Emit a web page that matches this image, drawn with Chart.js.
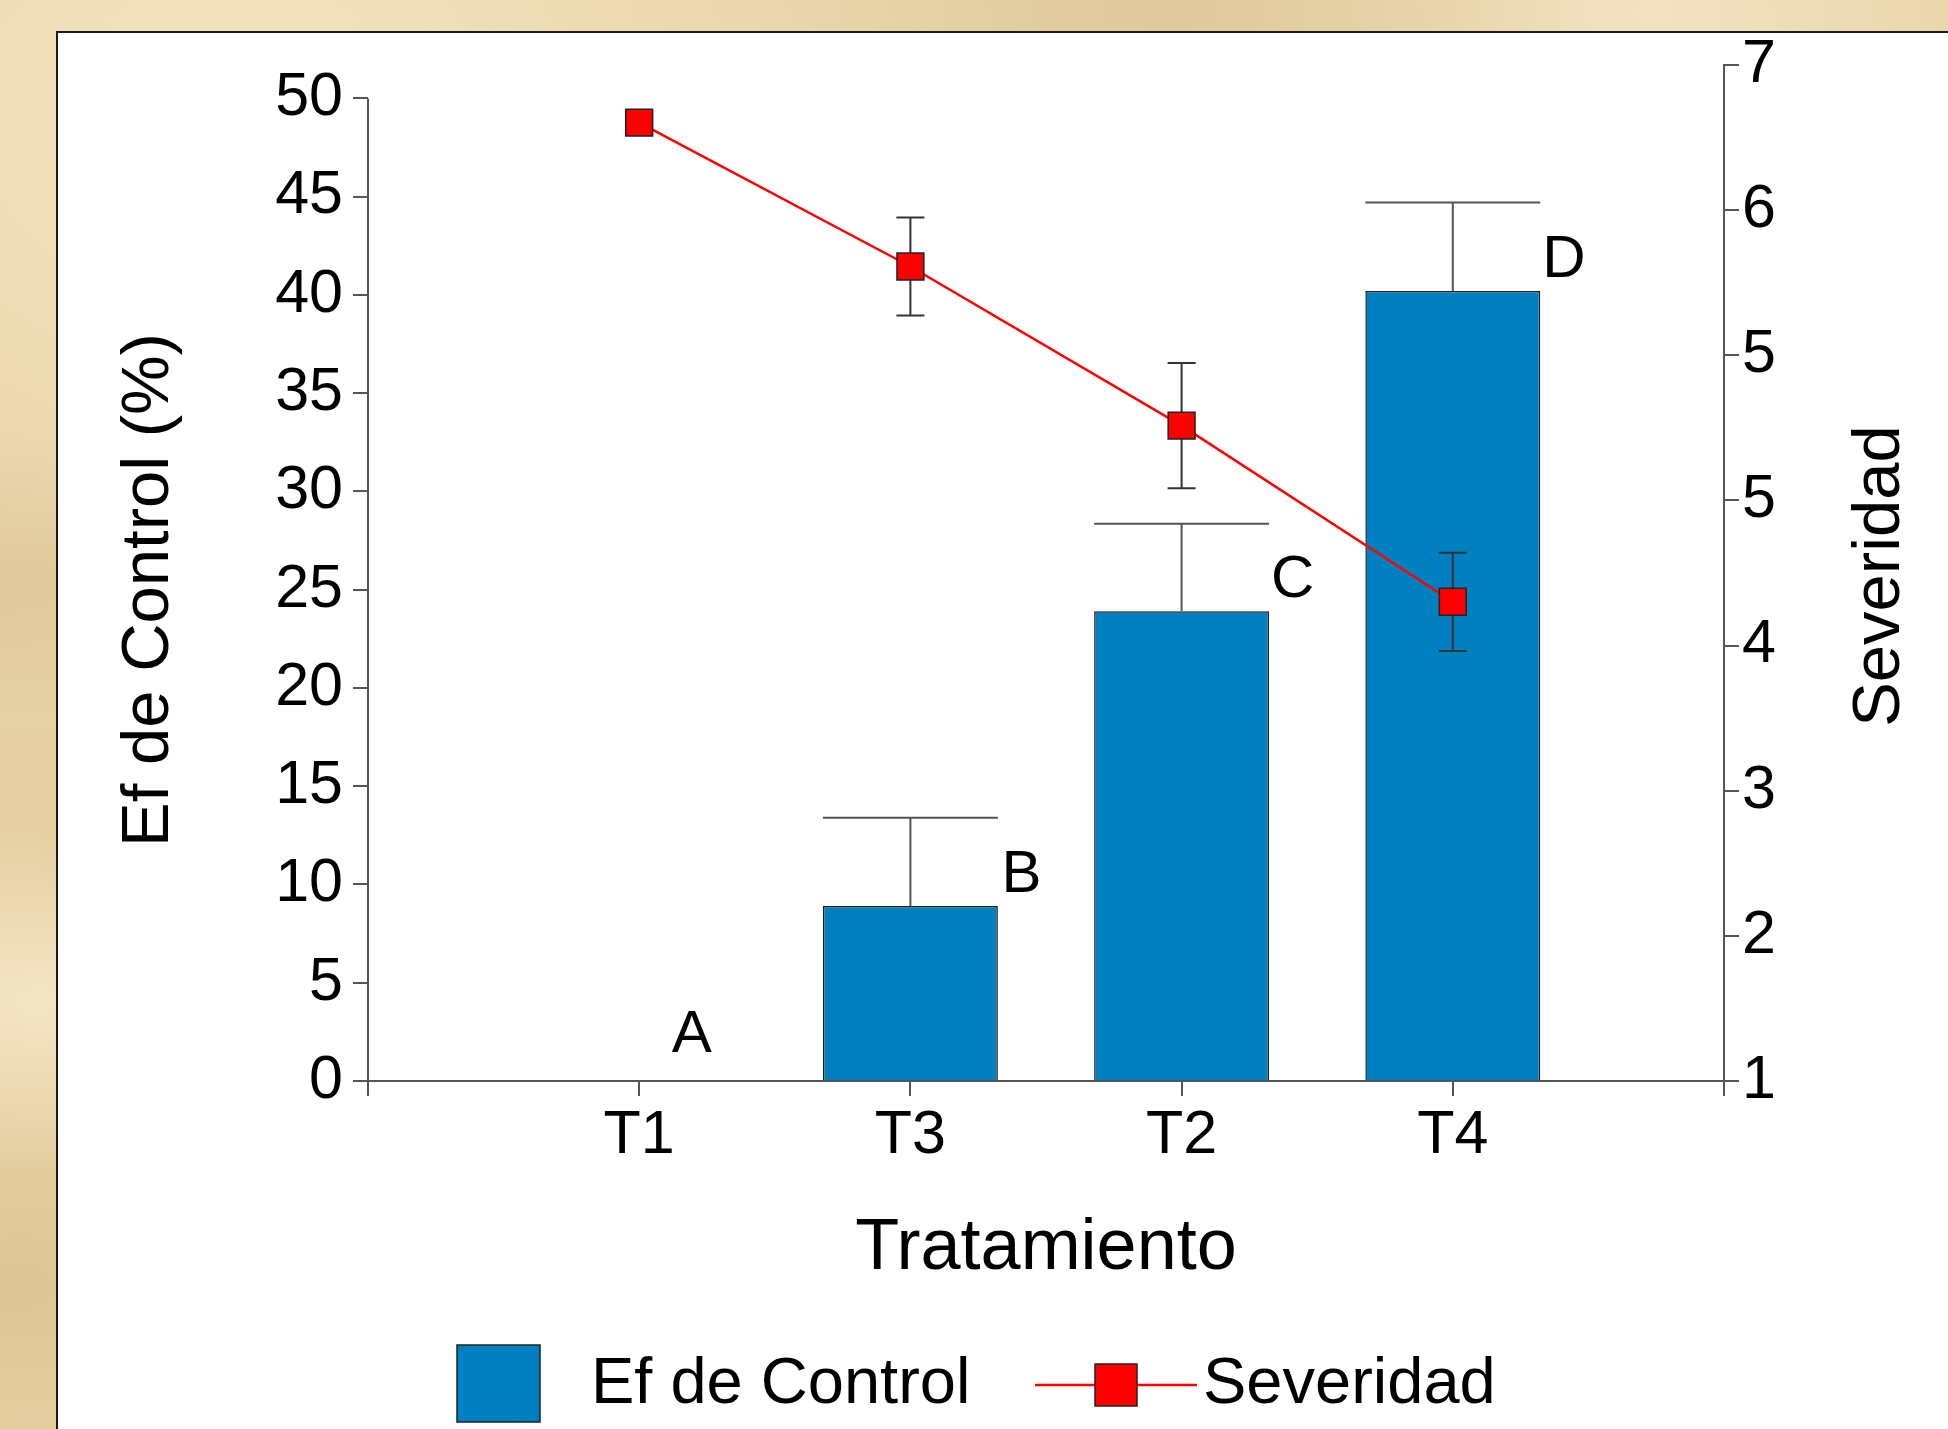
<!DOCTYPE html>
<html>
<head>
<meta charset="utf-8">
<title>Ef de Control y Severidad</title>
<script src="https://cdn.jsdelivr.net/npm/chart.js@4.4.1/dist/chart.umd.min.js"></script>
<style>
  html, body { margin: 0; padding: 0; width: 1948px; height: 1429px; overflow: hidden; }
  body {
    position: relative;
    background-color: #e6d0a3;
    background-image:
      radial-gradient(ellipse at 12% 8%, rgba(250,236,205,0.7), rgba(250,236,205,0) 35%),
      radial-gradient(ellipse at 30% 55%, rgba(214,188,140,0.5), rgba(214,188,140,0) 30%),
      radial-gradient(ellipse at 1% 40%, rgba(210,182,132,0.6), rgba(210,182,132,0) 12%),
      radial-gradient(ellipse at 2% 70%, rgba(250,238,210,0.7), rgba(250,238,210,0) 12%),
      radial-gradient(ellipse at 1% 90%, rgba(215,190,140,0.6), rgba(215,190,140,0) 10%),
      radial-gradient(ellipse at 60% 1%, rgba(220,196,150,0.6), rgba(220,196,150,0) 25%),
      radial-gradient(ellipse at 85% 1%, rgba(248,234,205,0.7), rgba(248,234,205,0) 20%);
  }
  #panel {
    position: absolute; left: 56px; top: 31px; right: 0; bottom: 0;
    background: #fff;
    border-top: 2px solid #1c1c1c;
    border-left: 2px solid #1c1c1c;
  }
  #chart { position: absolute; left: 0; top: 0; }
</style>
</head>
<body>
<div id="panel"></div>
<canvas id="chart" width="1948" height="1429"></canvas>
<script>
// ----- Chart data -----

const categories      = ["T1", "T3", "T2", "T4"];
const efControl       = [0, 8.9, 23.9, 40.2];       // bars, left axis (%)
const efControlErr    = [0, 4.5, 4.45, 4.5];        // upper error only
const severidad       = [6.66, 5.81, 4.87, 3.83];   // line, right axis
const severidadErr    = [0, 0.29, 0.37, 0.29];
const groupLetters    = ["A", "B", "C", "D"];
const leftTicks       = [0, 5, 10, 15, 20, 25, 30, 35, 40, 45, 50];
const leftAxisMax     = 51.7;
const rightTickLabels = ["1", "2", "3", "4", "5", "5", "6", "7"];
const rightMin = 1, rightMax = 7;

const FONT     = "'Liberation Sans', Arial, sans-serif";
const BAR_BLUE = "#0080c0";
const AXIS_CLR = "#555";

// empty slot on each side so T1..T4 sit at 1/5 .. 4/5 of the width
const pad = arr => [null, ...arr, null];

// ----- Extra drawing: error bars, letters, titles, legend -----

const decorPlugin = {
  id: "decor",
  afterDatasetDraw(chart, args) {
    if (args.index !== 0) return;             // right after the bars
    const ctx = chart.ctx;
    const y = chart.scales.y, y1 = chart.scales.y1;
    ctx.save();

    //bar errors (upper only, cap as wide as the bar)
    ctx.lineWidth = 2;
    ctx.strokeStyle = AXIS_CLR;
    args.meta.data.forEach((bar, i) => {
      const k = i - 1;
      if (k < 0 || k >= categories.length || !efControlErr[k]) return;
      const top = y.getPixelForValue(efControl[k] + efControlErr[k]);
      const half = bar.width / 2;
      ctx.beginPath();
      ctx.moveTo(bar.x, bar.y);
      ctx.lineTo(bar.x, top);
      ctx.moveTo(bar.x - half, top);
      ctx.lineTo(bar.x + half, top);
      ctx.stroke();
    });

    //severity errors (both sides)
    ctx.strokeStyle = "#333";
    chart.getDatasetMeta(1).data.forEach((pt, i) => {
      const k = i - 1;
      if (k < 0 || k >= categories.length || !severidadErr[k]) return;
      const hi = y1.getPixelForValue(severidad[k] + severidadErr[k]);
      const lo = y1.getPixelForValue(severidad[k] - severidadErr[k]);
      ctx.beginPath();
      ctx.moveTo(pt.x, hi); ctx.lineTo(pt.x, lo);
      ctx.moveTo(pt.x - 14, hi); ctx.lineTo(pt.x + 14, hi);
      ctx.moveTo(pt.x - 14, lo); ctx.lineTo(pt.x + 14, lo);
      ctx.stroke();
    });
    ctx.restore();
  },

  afterDraw(chart) {
    const ctx = chart.ctx;
    const { chartArea } = chart;
    const y = chart.scales.y;
    ctx.save();

    //left axis line only spans 0..50
    ctx.strokeStyle = AXIS_CLR;
    ctx.lineWidth = 2;
    ctx.beginPath();
    ctx.moveTo(chartArea.left, y.getPixelForValue(leftTicks[leftTicks.length - 1]));
    ctx.lineTo(chartArea.left, chartArea.bottom);
    ctx.stroke();

    //group letters next to each bar
    ctx.fillStyle = "#000";
    ctx.font = `60px ${FONT}`;
    ctx.textAlign = "center";
    ctx.textBaseline = "alphabetic";
    chart.getDatasetMeta(0).data.forEach((bar, i) => {
      const k = i - 1;
      if (k < 0 || k >= categories.length) return;
      const v = efControl[k];
      const top = y.getPixelForValue(v);
      const dx = bar.width * (v > 0 ? 0.635 : 0.3);
      const dy = v > 0 ? 14 : 29;
      ctx.fillText(groupLetters[k], bar.x + dx, top - dy);
    });

    //vertical axis titles (both read bottom-to-top)
    ctx.font = `67px ${FONT}`;
    ctx.textBaseline = "middle";
    [["Ef de Control (%)", 150, 590], ["Severidad", 1881, 576]].forEach(([t, x, yy]) => {
      ctx.save();
      ctx.translate(x, yy);
      ctx.rotate(-Math.PI / 2);
      ctx.fillText(t, 0, 0);
      ctx.restore();
    });

    //legend
    const ly = 1385;
    ctx.fillStyle = BAR_BLUE;
    ctx.fillRect(457, 1345, 83, 77);
    ctx.strokeStyle = "#222";
    ctx.lineWidth = 1.5;
    ctx.strokeRect(457, 1345, 83, 77);

    ctx.strokeStyle = "#ff0000";
    ctx.lineWidth = 2.5;
    ctx.beginPath();
    ctx.moveTo(1035, ly); ctx.lineTo(1197, ly);
    ctx.stroke();
    ctx.fillStyle = "#ff0000";
    ctx.fillRect(1095, ly - 21, 42, 42);
    ctx.strokeStyle = "#222";
    ctx.lineWidth = 1.5;
    ctx.strokeRect(1095, ly - 21, 42, 42);

    ctx.fillStyle = "#000";
    ctx.font = `65px ${FONT}`;
    ctx.textAlign = "left";
    ctx.fillText("Ef de Control", 591, ly);
    ctx.fillText("Severidad", 1203, ly);
    ctx.restore();
  }
};

// ----- Chart setup -----

document.addEventListener("DOMContentLoaded", () => {
  const ctx = document.getElementById("chart").getContext("2d");
  const tickFont = { family: FONT, size: 61 };
  const axisGrid = {
    drawOnChartArea: false, drawTicks: true, tickLength: 15,
    color: AXIS_CLR, lineWidth: 2, offset: false
  };

  window.mainChart = new Chart(ctx, {
    type: "bar",
    data: {
      labels: ["", ...categories, ""],
      datasets: [
        {
          label: "Ef de Control",
          data: pad(efControl),
          yAxisID: "y",
          order: 1,
          backgroundColor: BAR_BLUE,
          borderColor: "#1e1e1e",
          borderWidth: 1.5,
          categoryPercentage: 1,
          barPercentage: 0.645,
        },
        {
          type: "line",
          label: "Severidad",
          data: pad(severidad),
          yAxisID: "y1",
          order: 0,
          borderColor: "#ff0000",
          borderWidth: 2.5,
          pointStyle: "rect",
          pointRadius: 19,
          pointBackgroundColor: "#ff0000",
          pointBorderColor: "#222",
          pointBorderWidth: 1.5,
          fill: false,
          tension: 0,
        }
      ]
    },
    options: {
      responsive: false,
      animation: false,
      devicePixelRatio: 1,
      layout: { padding: { top: 65, left: 0, right: 0, bottom: 0 } },
      plugins: { legend: { display: false }, tooltip: { enabled: false } },
      scales: {
        x: {
          offset: false,
          grid: axisGrid,
          border: { display: true, color: AXIS_CLR, width: 2 },
          ticks: { font: tickFont, color: "#000", padding: 4, maxRotation: 0, autoSkip: false },
          title: {
            display: true, text: "Tratamiento", color: "#000",
            font: { family: FONT, size: 72 }, padding: { top: 0, bottom: 137 }
          },
          afterFit: s => { s.height = 348; }
        },
        y: {
          position: "left",
          min: 0,
          max: leftAxisMax,
          grid: axisGrid,
          border: { display: false },
          ticks: { font: tickFont, color: "#000", padding: 10 },
          afterBuildTicks: s => { s.ticks = leftTicks.map(v => ({ value: v })); },
          afterFit: s => { s.width = 368; }
        },
        y1: {
          position: "right",
          min: rightMin,
          max: rightMax,
          grid: axisGrid,
          border: { display: true, color: AXIS_CLR, width: 2 },
          ticks: {
            font: tickFont, color: "#000", padding: 3,
            callback: (v, i) => rightTickLabels[i]
          },
          afterBuildTicks: s => {
            const n = rightTickLabels.length;
            s.ticks = rightTickLabels.map((_, i) => ({
              value: rightMin + i * (rightMax - rightMin) / (n - 1)
            }));
          },
          afterFit: s => { s.width = 224; }
        }
      }
    },
    plugins: [decorPlugin]
  });
});
</script>
</body>
</html>
